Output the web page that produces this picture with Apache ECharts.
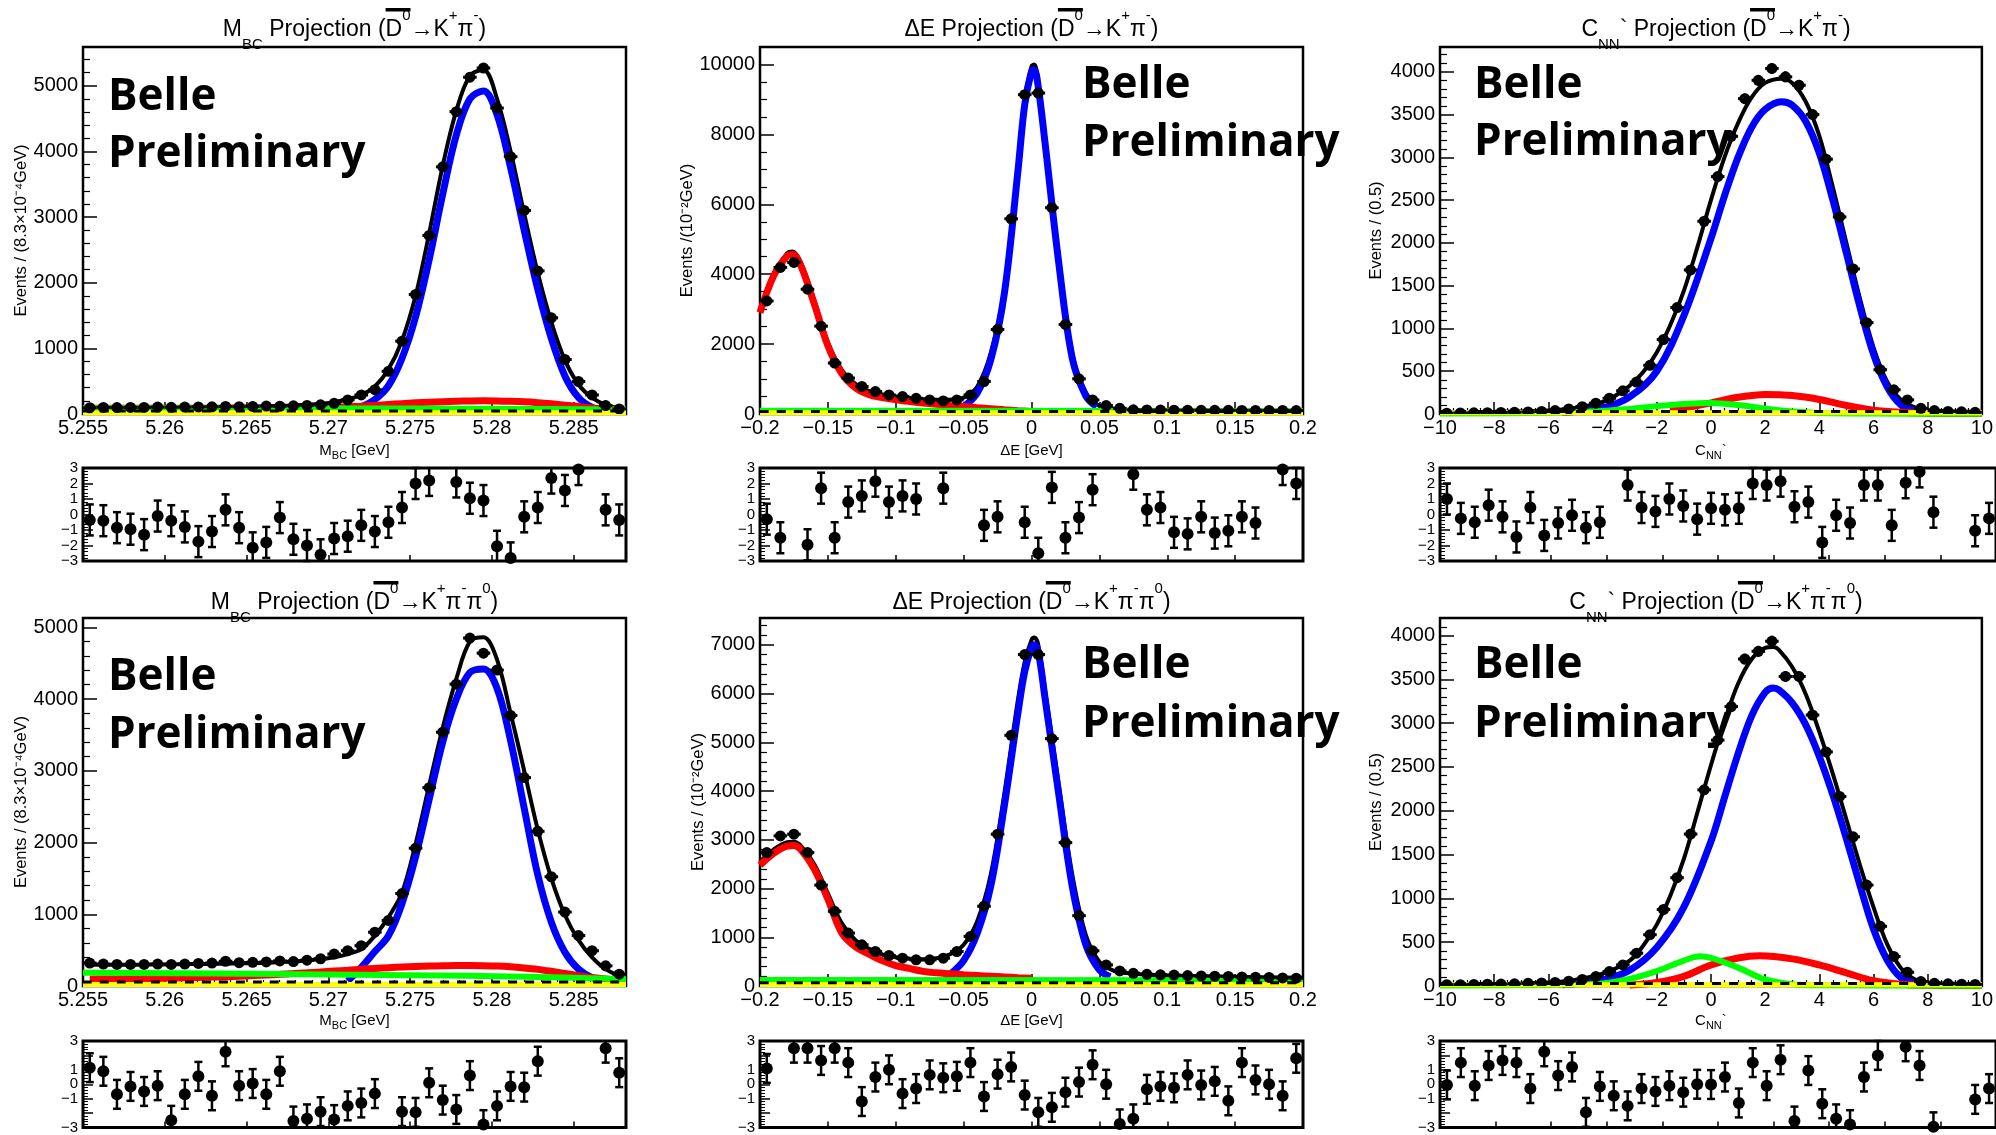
<!DOCTYPE html>
<html lang="en">
<head>
<meta charset="UTF-8">
<script src="https://cdn.jsdelivr.net/npm/echarts@6/dist/echarts.min.js"></script>
<style>
    html, body { margin: 0; padding: 0; background: #fff; }
    #main { width: 1996px; height: 1135px; }
</style>
</head>
<body>
<div id="main"></div>
<script>
var FONT = '"Liberation Sans", Arial, sans-serif';

// binning: [low edge, bin width], 40 bins each
var mbcBins = [5.255, 0.00083];
var deBins = [-0.2, 0.01];
var cnnBins = [-10, 0.5];

var mbcRange = [5.255, 5.2882], mbcStep = 0.005;
var deRange = [-0.2, 0.2], deStep = 0.05;
var cnnRange = [-10, 10], cnnStep = 2;

// ---------- Mbc, D0bar -> K+ pi- ----------
var mbcKpiData = [95,100,98,100,100,105,102,105,108,110,115,112,115,120,118,125,130,140,163,215,290,370,650,1110,1820,2720,3765,4605,5130,5270,4660,3920,3100,2180,1465,830,495,290,128,77];
var mbcKpiTotal = [100,100,100,101,101,102,103,104,105,107,109,111,114,118,123,130,140,155,180,225,290,420,680,1120,1800,2750,3780,4620,5150,5240,4800,4000,3050,2150,1400,820,450,250,140,90];
var mbcKpiSig = [null,null,null,null,null,null,null,null,null,null,null,null,null,null,null,null,null,null,null,null,110,220,430,850,1480,2350,3350,4250,4800,4920,4560,3750,2800,1900,1150,580,250,100,55,40];
var mbcKpiRed = [88,88,88,88,88,88,88,88,88,88,88,88,88,88,88,88,90,95,102,110,120,132,145,158,170,180,188,194,198,200,198,193,185,172,155,135,113,92,75,60];
var mbcKpiGreen = [[5.255, 88], [5.27, 85], [5.28, 80], [5.2882, 70]];
var mbcKpiYellow = [[5.255, 20], [5.2882, 20]];
var mbcKpiDash = [[5.255, 45], [5.2882, 45]];
var mbcKpiPull = [-0.35,-0.4,-0.85,-0.95,-1.3,-0.1,-0.4,-0.8,-1.75,-1.1,0.3,-0.85,-2.15,-1.8,-0.2,-1.6,-2.0,-2.6,-1.55,-1.4,-0.7,-1.1,-0.5,0.45,2.0,2.2,null,2.1,1.05,0.9,-2.05,-2.8,-0.15,0.45,2.35,1.55,2.9,null,0.3,-0.35];

// ---------- dE, D0bar -> K+ pi- ----------
var deKpiData = [3234,4194,4338,3570,2514,1459,1027,787,643,547,500,450,403,374,403,547,930,2418,5585,9136,9184,5902,2562,1007,403,240,163,120,115,112,110,108,106,105,104,103,102,100,100,98];
var deKpiTotal = [[-0.2,2950],[-0.19,4000],[-0.18,4600],[-0.176,4650],[-0.17,4350],[-0.16,3250],[-0.15,2050],[-0.14,1280],[-0.13,870],[-0.12,660],[-0.11,560],[-0.1,500],[-0.09,455],[-0.08,425],[-0.07,405],[-0.06,410],[-0.05,470],[-0.04,780],[-0.03,1750],[-0.02,3600],[-0.01,7100],[-0.005,9000],[0,9950],[0.002,10000],[0.005,9500],[0.01,7900],[0.02,4500],[0.03,1750],[0.04,620],[0.05,230],[0.06,150],[0.07,125],[0.1,112],[0.15,105],[0.2,100]];
var deKpiSig = [[-0.05,210],[-0.04,600],[-0.03,1550],[-0.02,3450],[-0.01,6950],[-0.005,8850],[0,9800],[0.002,9850],[0.005,9350],[0.01,7750],[0.02,4350],[0.03,1600],[0.04,520],[0.048,210]];
var deKpiRed = [[-0.2,2900],[-0.19,3950],[-0.18,4520],[-0.176,4560],[-0.17,4250],[-0.16,3150],[-0.15,1950],[-0.14,1170],[-0.13,760],[-0.12,560],[-0.11,470],[-0.1,410],[-0.09,360],[-0.08,315],[-0.07,280],[-0.06,245],[-0.05,215],[-0.04,180],[-0.03,150],[-0.02,120],[-0.01,95],[0,75]];
var deKpiGreen = [[-0.2, 90], [0.2, 85]];
var deKpiYellow = [[-0.2, 35], [0.2, 35]];
var deKpiDash = [[-0.2, 70], [0.2, 70]];
var deKpiPull = [-0.3,-1.5,null,-1.95,1.7,-1.5,0.8,1.2,2.15,0.8,1.2,1.0,null,1.7,null,null,-0.7,-0.15,null,-0.5,-2.5,1.75,-1.5,-0.2,1.6,null,null,2.6,0.3,0.45,-1.15,-1.25,-0.15,-1.2,-1.05,-0.15,-0.55,null,2.9,2.0];

// ---------- C_NN', D0bar -> K+ pi- ----------
var cnnKpiData = [10,12,14,15,18,20,24,30,40,59,86,126,184,271,373,569,871,1244,1684,2253,2775,3246,3686,3901,4039,3941,3843,3500,2979,2304,1696,1068,518,283,165,67,40,30,25,20];
var cnnKpiTotal = [[-10,20],[-8,25],[-6,40],[-5,70],[-4,140],[-3.5,220],[-3,330],[-2.5,490],[-2,720],[-1.5,1040],[-1,1440],[-0.5,1950],[0,2500],[0.5,3000],[1,3400],[1.5,3700],[2,3870],[2.6,3920],[3,3870],[3.5,3650],[4,3250],[4.5,2650],[5,2000],[5.5,1350],[6,780],[6.5,380],[7,170],[7.5,80],[8,45],[9,30],[10,25]];
var cnnKpiSig = [[-5.5,20],[-5,30],[-4,70],[-3,200],[-2,500],[-1,1150],[0,2050],[0.5,2550],[1,3000],[1.5,3350],[2,3560],[2.6,3650],[3,3610],[3.5,3420],[4,3050],[4.5,2500],[5,1880],[5.5,1250],[6,700],[6.5,320],[7,110],[7.5,40],[8,20]];
var cnnKpiRed = [[-1.5,40],[-1,70],[0,130],[1,195],[2,228],[3,215],[4,170],[5,100],[6,45],[7,20],[8,10],[10,5]];
var cnnKpiGreen = [[-10,5],[-6,15],[-4,35],[-3,60],[-2,92],[-1,118],[0,128],[1,105],[2,62],[3,28],[4,12],[6,5],[10,3]];
var cnnKpiYellow = [[-10, 15], [10, 15]];
var cnnKpiDash = [[-10, 28], [10, 28]];
var cnnKpiPull = [1.0,-0.25,-0.5,0.6,-0.15,-1.45,0.45,-1.35,-0.55,-0.05,-0.85,-0.5,null,1.9,0.45,0.2,1.0,0.55,-0.3,0.4,0.3,0.4,2.0,1.9,2.15,0.5,0.8,-1.8,-0.05,-0.55,1.9,1.9,-0.7,2.05,2.75,0.15,null,null,-1.05,-0.25];

// ---------- Mbc, D0bar -> K+ pi- pi0 ----------
var mbcPi0Data = [320,305,300,300,300,305,300,305,315,320,345,325,330,335,350,340,360,380,445,492,562,750,914,1289,1921,2765,3538,4208,4850,4640,4405,3772,2905,2156,1523,1031,703,492,281,164];
var mbcPi0Total = [295,295,296,297,298,300,302,304,306,308,311,314,318,323,330,340,355,375,400,445,515,700,960,1300,1980,2800,3600,4280,4800,4860,4550,3800,3000,2180,1500,990,640,400,235,140];
var mbcPi0Sig = [null,null,null,null,null,null,null,null,null,null,null,null,null,null,null,null,null,null,null,70,260,480,700,1150,1800,2600,3400,4000,4370,4420,4150,3420,2480,1550,890,470,235,117,70,50];
var mbcPi0Red = [95,97,99,101,103,106,110,114,119,124,130,137,145,154,163,173,184,196,208,220,233,245,256,265,272,278,282,285,285,283,278,268,252,232,205,175,145,118,98,85];
var mbcPi0Green = [[5.255, 185], [5.265, 170], [5.275, 150], [5.282, 130], [5.2882, 95]];
var mbcPi0Yellow = [[5.255, 20], [5.2882, 20]];
var mbcPi0Dash = [[5.255, 55], [5.2882, 55]];
var mbcPi0Pull = [1.15,0.9,-0.7,-0.15,-0.5,-0.1,-2.5,-0.7,0.55,-0.8,2.25,-0.1,0.05,-0.7,0.9,-2.55,-2.4,-1.9,-2.45,-1.5,-1.3,-0.65,null,-1.9,-1.95,0.1,-1.1,-1.75,0.6,-2.8,-1.5,-0.15,-0.2,1.6,null,null,null,null,2.5,0.8];

// ---------- dE, D0bar -> K+ pi- pi0 ----------
var dePi0Data = [2737,3080,3115,2737,2070,1533,1086,846,708,626,571,536,536,571,708,1018,1637,3115,5143,6800,6800,5075,2943,1444,722,433,309,261,240,230,225,215,205,200,195,185,180,175,165,160];
var dePi0Total = [[-0.2,2550],[-0.19,2800],[-0.18,2950],[-0.175,2960],[-0.17,2880],[-0.16,2500],[-0.15,1900],[-0.14,1300],[-0.13,950],[-0.12,770],[-0.11,650],[-0.1,590],[-0.09,560],[-0.08,550],[-0.07,570],[-0.06,650],[-0.05,846],[-0.04,1330],[-0.03,2290],[-0.02,3950],[-0.01,5870],[-0.005,6650],[0,7100],[0.002,7150],[0.005,7000],[0.01,6070],[0.02,4150],[0.03,2290],[0.04,1050],[0.05,500],[0.06,320],[0.07,265],[0.08,240],[0.1,215],[0.15,190],[0.2,170]];
var dePi0Sig = [[-0.064,200],[-0.06,240],[-0.05,520],[-0.04,1080],[-0.03,2050],[-0.02,3700],[-0.01,5600],[-0.005,6450],[0,6950],[0.002,7000],[0.005,6850],[0.01,5900],[0.02,3950],[0.03,2050],[0.04,850],[0.05,330],[0.058,190]];
var dePi0Red = [[-0.2,2480],[-0.19,2720],[-0.18,2870],[-0.175,2880],[-0.17,2800],[-0.16,2400],[-0.15,1780],[-0.14,1100],[-0.13,810],[-0.12,660],[-0.11,520],[-0.1,420],[-0.09,360],[-0.08,300],[-0.07,270],[-0.06,250],[-0.05,230],[-0.04,215],[-0.03,200],[-0.02,185],[-0.01,170],[0,158]];
var dePi0Green = [[-0.2, 125], [0.2, 120]];
var dePi0Yellow = [[-0.2, 30], [0.2, 30]];
var dePi0Dash = [[-0.2, 65], [0.2, 65]];
var dePi0Pull = [1.1,null,2.5,2.5,1.65,2.5,1.5,-1.2,0.5,1.0,-0.65,-0.3,0.65,0.45,0.55,1.5,-0.85,0.7,1.2,-0.75,-1.95,-1.6,-0.55,0.15,1.35,0.0,-2.75,-2.4,-0.35,-0.15,-0.25,0.65,-0.05,0.2,-1.15,1.5,0.3,0.0,-0.8,1.8];

// ---------- C_NN', D0bar -> K+ pi- pi0 ----------
var cnnPi0Data = [15,15,18,20,22,25,30,35,40,55,75,107,165,241,375,586,873,1236,1734,2239,2806,3189,3732,3820,3935,3533,3533,3093,2672,2163,1703,1152,681,337,157,50,30,25,20,18];
var cnnPi0Total = [[-10,15],[-8,20],[-6,40],[-5,70],[-4,140],[-3,290],[-2.5,460],[-2,700],[-1.5,1030],[-1,1450],[-0.5,1980],[0,2520],[0.5,3020],[1,3450],[1.5,3730],[2,3860],[2.3,3870],[2.5,3840],[3,3640],[3.5,3330],[4,2900],[4.5,2420],[5,1900],[5.5,1380],[6,900],[6.5,480],[7,210],[7.5,80],[8,40],[9,25],[10,20]];
var cnnPi0Sig = [[-5.5,15],[-5,25],[-4,70],[-3,180],[-2,440],[-1,900],[0,1650],[0.5,2150],[1,2650],[1.5,3080],[2,3350],[2.3,3400],[2.5,3380],[3,3230],[3.5,2980],[4,2620],[4.5,2180],[5,1680],[5.5,1150],[6,650],[6.5,300],[7,100],[7.5,35],[8,15]];
var cnnPi0Red = [[-3,10],[-2,40],[-1,110],[0,240],[1,320],[1.8,345],[3,310],[4,240],[5,150],[6,60],[7,20],[8,8],[10,4]];
var cnnPi0Green = [[-10,5],[-6,12],[-4,30],[-3,80],[-2,170],[-1,290],[-0.4,340],[0,320],[1,210],[2,75],[3,20],[4,8],[10,3]];
var cnnPi0Yellow = [[-10, 15], [10, 15]];
var cnnPi0Dash = [[-10, 28], [10, 28]];
var cnnPi0Pull = [-0.05,1.5,-0.1,1.3,1.65,1.5,-0.3,2.25,0.6,1.2,-1.95,-0.15,-0.8,-1.5,-0.3,-0.5,-0.1,-0.55,0.0,-0.02,0.5,-1.3,1.5,-0.1,1.7,-2.55,0.95,-1.35,-2.4,-2.8,0.5,2.0,null,2.6,1.3,-2.95,null,null,-1.05,-0.3];

// title pieces: [style, text]; 'o' = letter carrying the bar
var titleKpi = [['o','D'],['p','0'],['n','\u2192K'],['p','+'],['n','\u03c0'],['p','-'],['n',')']];
var titlePi0 = [['o','D'],['p','0'],['n','\u2192K'],['p','+'],['n','\u03c0'],['p','-'],['n','\u03c0'],['p','0'],['n',')']];
var mbcHead = [['n','M'],['s','BC'],['n',' Projection (']];
var deHead = [['n','\u0394E Projection (']];
var cnnHead = [['n','C'],['s','NN'],['n','` Projection (']];

var panels = [
    {row:0, col:0, bins:mbcBins, xr:mbcRange, xi:mbcStep, xminor:5, ymax:5590, yi:1000, yminor:5,
     data:mbcKpiData, total:mbcKpiTotal, sig:mbcKpiSig, red:mbcKpiRed, green:mbcKpiGreen, yellow:mbcKpiYellow, dash:mbcKpiDash, pull:mbcKpiPull,
     title:mbcHead.concat(titleKpi), xname:'{n|M}{s|BC}{n| [GeV]}', yname:'Events / (8.3\u00d710\u207b\u2074GeV)', ygap:53, belle:[108,112,169]},
    {row:0, col:1, bins:deBins, xr:deRange, xi:deStep, xminor:5, ymax:10500, yi:2000, yminor:4,
     data:deKpiData, total:deKpiTotal, sig:deKpiSig, red:deKpiRed, green:deKpiGreen, yellow:deKpiYellow, dash:deKpiDash, pull:deKpiPull,
     title:deHead.concat(titleKpi), xname:'{n|\u0394E [GeV]}', yname:'Events /(10\u207b\u00b2GeV)', ygap:51, belle:[1082,100,158]},
    {row:0, col:2, bins:cnnBins, xr:cnnRange, xi:cnnStep, xminor:4, ymax:4290, yi:500, yminor:5,
     data:cnnKpiData, total:cnnKpiTotal, sig:cnnKpiSig, red:cnnKpiRed, green:cnnKpiGreen, yellow:cnnKpiYellow, dash:cnnKpiDash, pull:cnnKpiPull,
     title:cnnHead.concat(titleKpi), xname:'{n|C}{s|NN}{n|`}', yname:'Events / (0.5)', ygap:55, belle:[1474,100,157]},
    {row:1, col:0, bins:mbcBins, xr:mbcRange, xi:mbcStep, xminor:5, ymax:5130, yi:1000, yminor:5,
     data:mbcPi0Data, total:mbcPi0Total, sig:mbcPi0Sig, red:mbcPi0Red, green:mbcPi0Green, yellow:mbcPi0Yellow, dash:mbcPi0Dash, pull:mbcPi0Pull,
     title:mbcHead.concat(titlePi0), xname:'{n|M}{s|BC}{n| [GeV]}', yname:'Events / (8.3\u00d710\u207b\u2074GeV)', ygap:53, belle:[108,692,750]},
    {row:1, col:1, bins:deBins, xr:deRange, xi:deStep, xminor:5, ymax:7550, yi:1000, yminor:5,
     data:dePi0Data, total:dePi0Total, sig:dePi0Sig, red:dePi0Red, green:dePi0Green, yellow:dePi0Yellow, dash:dePi0Dash, pull:dePi0Pull,
     title:deHead.concat(titlePi0), xname:'{n|\u0394E [GeV]}', yname:'Events / (10\u207b\u00b2GeV)', ygap:51, belle:[1082,680,739]},
    {row:1, col:2, bins:cnnBins, xr:cnnRange, xi:cnnStep, xminor:4, ymax:4200, yi:500, yminor:5,
     data:cnnPi0Data, total:cnnPi0Total, sig:cnnPi0Sig, red:cnnPi0Red, green:cnnPi0Green, yellow:cnnPi0Yellow, dash:cnnPi0Dash, pull:cnnPi0Pull,
     title:cnnHead.concat(titlePi0), xname:'{n|C}{s|NN}{n|`}', yname:'Events / (0.5)', ygap:55, belle:[1474,680,739]}
];

var cols = [{left:83, width:543}, {left:760, width:543}, {left:1440, width:557}];
var mainRows = [{top:47, height:367, ty:30}, {top:618, height:368, ty:603}];
var resRows = [{top:468, height:93}, {top:1041, height:93}];

function center(b, i) { return +(b[0] + (i + 0.5) * b[1]).toFixed(6); }
function toPairs(arr, b) {
    if (Array.isArray(arr[0])) return arr;
    return arr.map(function (v, i) { return [center(b, i), v]; });
}
function fmt(v) { return String(+(+v).toPrecision(6)).replace('-', '\u2212'); }

var BIG = 23, SMALL = 15;
var measure = document.createElement('canvas').getContext('2d');
function textW(t, size) { measure.font = size + 'px ' + FONT; return measure.measureText(t).width; }

var titleRich = {
    n: {fontSize:BIG, fontFamily:FONT, fill:'#000', color:'#000', lineHeight:44},
    o: {fontSize:BIG, fontFamily:FONT, fill:'#000', color:'#000', lineHeight:44},
    s: {fontSize:SMALL, fontFamily:FONT, fill:'#000', color:'#000', lineHeight:29, verticalAlign:'bottom'},
    p: {fontSize:SMALL, fontFamily:FONT, fill:'#000', color:'#000', lineHeight:17, verticalAlign:'top'}
};
var nameRich = {
    n: {fontSize:15, fontFamily:FONT, color:'#000', lineHeight:20},
    s: {fontSize:11, fontFamily:FONT, color:'#000', lineHeight:14, verticalAlign:'bottom'}
};

var grids = [], xAxes = [], yAxes = [], series = [], graphics = [];

panels.forEach(function (p) {
    var c = cols[p.col], mr = mainRows[p.row], rr = resRows[p.row];
    var gm = grids.length, gr = gm + 1;
    grids.push({left:c.left, top:mr.top, width:c.width, height:mr.height, show:true, borderColor:'#000', borderWidth:2.5});
    grids.push({left:c.left, top:rr.top, width:c.width, height:rr.height, show:true, borderColor:'#000', borderWidth:3});

    xAxes.push({
        gridIndex:gm, type:'value', min:p.xr[0], max:p.xr[1], interval:p.xi,
        axisLine:{show:false, onZero:false}, splitLine:{show:false},
        axisTick:{inside:true, length:12, lineStyle:{color:'#000', width:1.5}},
        minorTick:{show:true, splitNumber:p.xminor, length:6, lineStyle:{color:'#000', width:1.2}},
        axisLabel:{color:'#000', fontSize:20, fontFamily:FONT, margin:4, showMaxLabel:p.xi !== mbcStep, formatter:fmt},
        name:p.xname, nameLocation:'middle', nameGap:p.row === 0 ? 27 : 25,
        nameTextStyle:{color:'#000', fontSize:15, fontFamily:FONT, rich:nameRich}
    });
    xAxes.push({
        gridIndex:gr, type:'value', min:p.xr[0], max:p.xr[1], interval:p.xi,
        axisLine:{show:false, onZero:false}, splitLine:{show:false},
        axisTick:{inside:true, length:6, lineStyle:{color:'#000', width:1.5}},
        axisLabel:{show:false}
    });
    yAxes.push({
        gridIndex:gm, type:'value', min:0, max:p.ymax, interval:p.yi,
        axisLine:{show:false, onZero:false}, splitLine:{show:false},
        axisTick:{show:true, inside:true, length:14, lineStyle:{color:'#000', width:1.5}},
        minorTick:{show:true, splitNumber:p.yminor, length:7, lineStyle:{color:'#000', width:1.2}},
        axisLabel:{color:'#000', fontSize:20, fontFamily:FONT, margin:5, showMinLabel:true, showMaxLabel:false, formatter:fmt},
        name:p.yname, nameLocation:'middle', nameGap:p.ygap,
        nameTextStyle:{color:'#000', fontSize:16.5, fontFamily:FONT}
    });
    yAxes.push({
        gridIndex:gr, type:'value', min:-3, max:3, interval:1,
        axisLine:{show:false, onZero:false}, splitLine:{show:false},
        axisTick:{show:true, inside:true, length:10, lineStyle:{color:'#000', width:1.5}},
        minorTick:{show:true, splitNumber:5, length:5, lineStyle:{color:'#000', width:1}},
        axisLabel:{color:'#000', fontSize:15, lineHeight:11, fontFamily:FONT, margin:5, showMinLabel:true, showMaxLabel:true, hideOverlap:false, formatter:fmt}
    });

    function curve(arr, color, width, z, dashed) {
        return {
            type:'line', xAxisIndex:gm, yAxisIndex:gm, data:toPairs(arr, p.bins),
            showSymbol:false, symbol:'none', smooth:0.35, clip:true, z:z, silent:true,
            lineStyle:{color:color, width:width, type:dashed ? [9, 8] : 'solid'}
        };
    }
    series.push(curve(p.total, '#000000', 4, 2));
    series.push(curve(p.sig, '#0000ff', 7, 3));
    series.push(curve(p.red, '#ff0000', 7, 4));
    series.push(curve(p.green, '#00ff00', 6, 5));
    series.push(curve(p.yellow, '#ffff00', 5, 6));
    series.push(curve(p.dash, '#000000', 3, 7, true));

    // data points with bin-width bars and sqrt(N) errors
    series.push({
        type:'custom', xAxisIndex:gm, yAxisIndex:gm, z:10, clip:true, silent:true,
        dimensions:['x', 'y'], encode:{x:0, y:1},
        data:toPairs(p.data, p.bins),
        renderItem:function (params, api) {
            var x = api.value(0), y = api.value(1), hw = p.bins[1] / 2, e = Math.sqrt(y);
            var pt = api.coord([x, y]), l = api.coord([x - hw, y]), r = api.coord([x + hw, y]);
            var t = api.coord([x, y + e]), b = api.coord([x, y - e]);
            return {type:'group', children:[
                {type:'line', shape:{x1:l[0], y1:pt[1], x2:r[0], y2:pt[1]}, style:{stroke:'#000', lineWidth:3}},
                {type:'line', shape:{x1:pt[0], y1:t[1], x2:pt[0], y2:b[1]}, style:{stroke:'#000', lineWidth:3}},
                {type:'circle', shape:{cx:pt[0], cy:pt[1], r:5.5}, style:{fill:'#000'}}
            ]};
        }
    });

    // pulls
    series.push({
        type:'custom', xAxisIndex:gr, yAxisIndex:gr, z:10, clip:false, silent:true,
        dimensions:['x', 'y'], encode:{x:0, y:1},
        data:toPairs(p.pull, p.bins),
        renderItem:function (params, api) {
            var x = api.value(0), v = api.value(1);
            if (isNaN(v)) return null;
            var hi = Math.min(v + 1, 3), lo = Math.max(v - 1, -3);
            var pt = api.coord([x, v]), a = api.coord([x, hi]), b = api.coord([x, lo]);
            var kids = [];
            if (hi > lo) kids.push({type:'line', shape:{x1:pt[0], y1:a[1], x2:pt[0], y2:b[1]}, style:{stroke:'#000', lineWidth:2.5}});
            if (v + 1 <= 3) kids.push({type:'line', shape:{x1:pt[0] - 4, y1:a[1], x2:pt[0] + 4, y2:a[1]}, style:{stroke:'#000', lineWidth:2.5}});
            if (v - 1 >= -3) kids.push({type:'line', shape:{x1:pt[0] - 4, y1:b[1], x2:pt[0] + 4, y2:b[1]}, style:{stroke:'#000', lineWidth:2.5}});
            if (Math.abs(v) <= 3.05) kids.push({type:'circle', shape:{cx:pt[0], cy:pt[1], r:6}, style:{fill:'#000'}});
            return {type:'group', children:kids};
        }
    });

    // panel title with bar over the D
    var cx = c.left + (p.col === 2 ? 276 : c.width / 2), cy = mr.ty;
    var total = 0, barX = 0, barW = 0;
    p.title.forEach(function (tk, i) {
        var w = textW(tk[1], tk[0] === 's' || tk[0] === 'p' ? SMALL : BIG);
        if (tk[0] === 'o') { barX = total; barW = w + textW(p.title[i + 1][1], SMALL); }
        total += w;
    });
    graphics.push({
        type:'text', x:cx, y:cy, z:100, silent:true,
        style:{text:p.title.map(function (tk) { return '{' + tk[0] + '|' + tk[1] + '}'; }).join(''),
               rich:titleRich, fill:'#000', align:'center', verticalAlign:'middle', textAlign:'center', textVerticalAlign:'middle'}
    });
    graphics.push({
        type:'rect', z:100, silent:true,
        shape:{x:cx - total / 2 + barX, y:cy - 22, width:barW, height:3.5},
        style:{fill:'#000'}
    });

    // watermark
    ['Belle', 'Preliminary'].forEach(function (word, j) {
        graphics.push({
            type:'text', x:p.belle[0], y:p.belle[1 + j] - 15, z:100, silent:true,
            style:{text:word, font:'bold 44px "Open Sans"', fill:'#000', align:'left', verticalAlign:'middle', textAlign:'left', textVerticalAlign:'middle'}
        });
    });
});

var myChart = echarts.init(document.getElementById('main'));
myChart.setOption({
    animation:false,
    backgroundColor:'#fff',
    grid:grids,
    xAxis:xAxes,
    yAxis:yAxes,
    series:series,
    graphic:{elements:graphics}
});
</script>
</body>
</html>
